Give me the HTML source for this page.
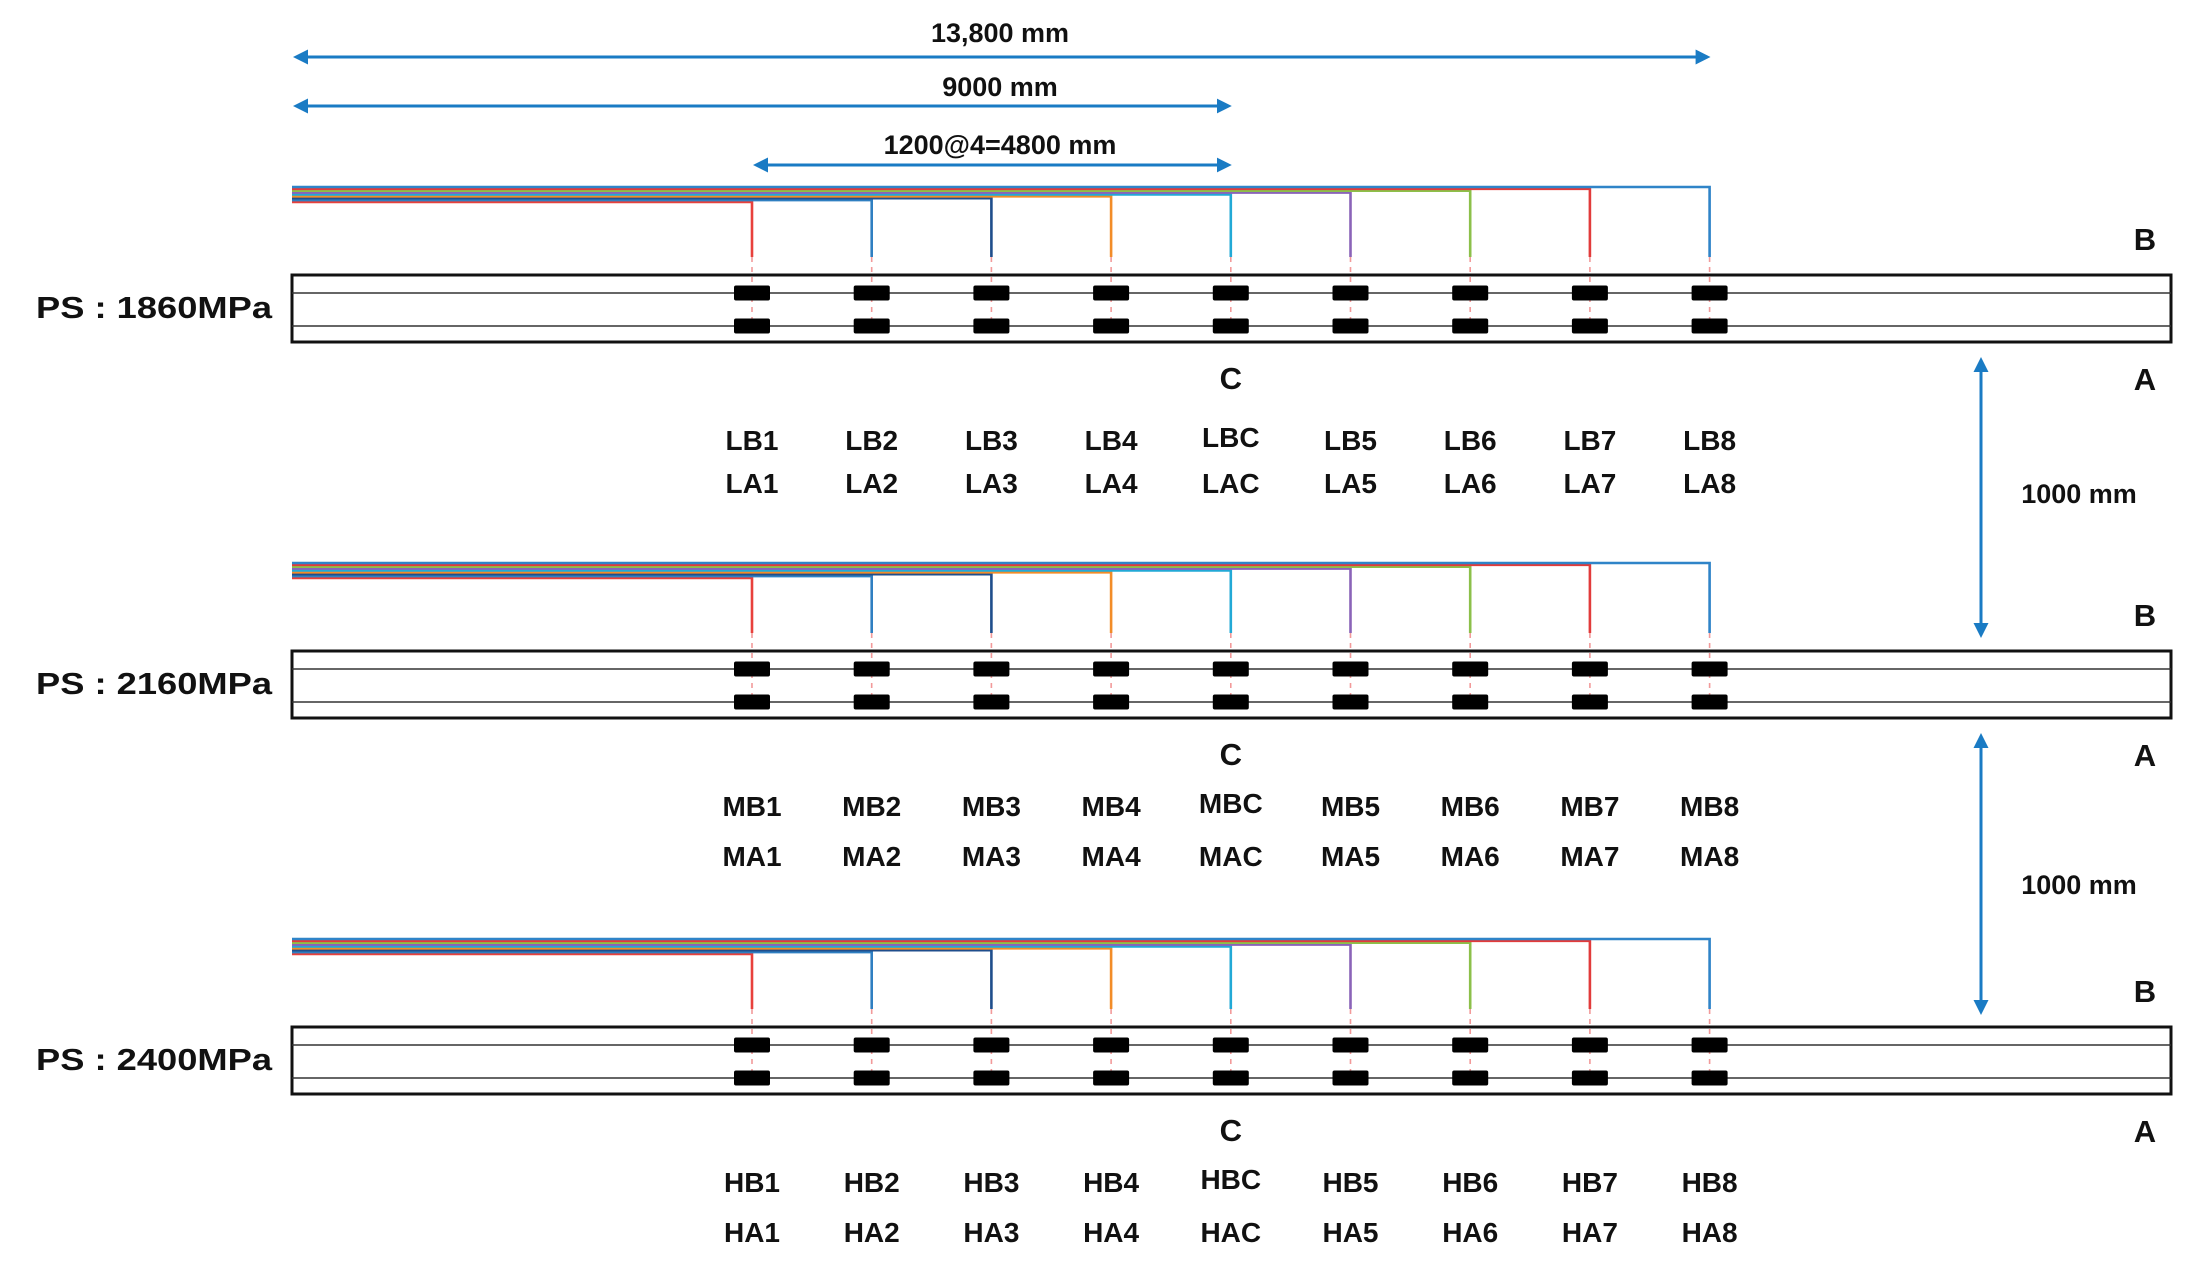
<!DOCTYPE html>
<html><head><meta charset="utf-8"><style>
html,body{margin:0;padding:0;background:#fff;}
svg{display:block;}
text{font-family:"Liberation Sans","Noto Sans CJK KR",sans-serif;font-weight:bold;fill:#111;}
</style></head><body>
<svg id="chart" width="2187" height="1266" viewBox="0 0 2187 1266" xmlns="http://www.w3.org/2000/svg">
<defs>
<marker id="ah" viewBox="0 0 10 10" refX="8" refY="5" markerWidth="5" markerHeight="5" orient="auto-start-reverse"><path d="M0,0 L10,5 L0,10 z" fill="#1a7bc4"/></marker>
</defs>
<g id="dims"></g>
<g id="rails"></g>
</svg>
<script>
const railLabels = ["PS : 1860MPa", "PS : 2160MPa", "PS : 2400MPa"];
const prefixes = ["L", "M", "H"];
const sensorIds = ["1","2","3","4","C","5","6","7","8"];
const wireColors = ["#e8413c","#2f7fc1","#1f4e8c","#f28c28","#22a9d6","#8a63b8","#8cc04a","#e23b3b","#2f84c8"];
const dimLabels = ["13,800 mm","9000 mm","1200@4=4800 mm"];
const dimFromIdx = [-1,-1,0];
const dimToIdx = [8,4,4];
const gapLabel = "1000 mm";

const NS="http://www.w3.org/2000/svg";
const svg=document.getElementById('chart');
const gd=document.getElementById('dims');
const gr=document.getElementById('rails');
function mk(tag,attrs,parent){const e=document.createElementNS(NS,tag);for(const k in attrs)e.setAttribute(k,attrs[k]);parent.appendChild(e);return e;}
const railLeft=292, railRight=2171;
const sx=i=>752+119.7*i;
const railTop=r=>275+376*r;

// dimension arrows
const dimY=[57,106,165], dimTY=[42,96,154];
dimLabels.forEach((lab,k)=>{
  const x1=dimFromIdx[k]<0?railLeft:sx(dimFromIdx[k]);
  const x2=sx(dimToIdx[k])+2;
  const l=mk('line',{x1:x1+4,y1:dimY[k],x2:x2-4,y2:dimY[k],stroke:'#1a7bc4','stroke-width':3,'marker-start':'url(#ah)','marker-end':'url(#ah)'},gd);
  
  
  const t=mk('text',{x:1000,y:dimTY[k],'text-anchor':'middle','font-size':27},gd);
  t.textContent=lab;
  
  
});
// vertical gap arrows
[[356,639,493],[732,1016,884]].forEach((g,k)=>{
  const l=mk('line',{x1:1981,y1:g[0]+4,x2:1981,y2:g[1]-4,stroke:'#1a7bc4','stroke-width':3,'marker-start':'url(#ah)','marker-end':'url(#ah)'},gd);
  
  
  const t=mk('text',{x:2079,y:g[2]+10,'text-anchor':'middle','font-size':27},gd);
  t.textContent=gapLabel;
  
  
});

railLabels.forEach((lab,r)=>{
  const top=railTop(r);
  const g=mk('g',{},gr);
  
  
  const bundleBottom=top-73, bundleTop=top-88;
  sensorIds.forEach((id,i)=>{
    const x=sx(i);
    const y=bundleBottom-i*(bundleBottom-bundleTop)/8;
    const p=mk('path',{d:`M${railLeft},${y} H${x} V${top-18}`,fill:'none',stroke:wireColors[i],'stroke-width':2.6},g);
    
    
    const d=mk('line',{x1:x,y1:top-18,x2:x,y2:top+52,stroke:'#f29a9a','stroke-width':1.6,'stroke-dasharray':'5,5'},g);
    
    
  });
  const box=mk('rect',{x:railLeft,y:top,width:railRight-railLeft,height:67,fill:'none',stroke:'#111','stroke-width':3},g);
  
  
  [18,51].forEach((o,j)=>{
    const ln=mk('line',{x1:railLeft,y1:top+o,x2:railRight,y2:top+o,stroke:'#333','stroke-width':1.6},g);
    
    
  });
  const bOff = r===0?175:165, aOff = r===0?218:215;
  sensorIds.forEach((id,i)=>{
    [18,51].forEach((o,j)=>{
      const s=mk('rect',{x:sx(i)-18,y:top+o-7.5,width:36,height:15,rx:2,fill:'#000'},g);
      
      
    });
    const tb=mk('text',{x:sx(i),y:top+bOff-(id==='C'?3:0),'text-anchor':'middle','font-size':28},g);
    tb.textContent=prefixes[r]+'B'+id;
    
    
    const ta=mk('text',{x:sx(i),y:top+aOff,'text-anchor':'middle','font-size':28},g);
    ta.textContent=prefixes[r]+'A'+id;
    
    
  });
  const pl=mk('text',{x:36,y:top+43,'font-size':31,textLength:236,lengthAdjust:'spacingAndGlyphs'},g);
  pl.textContent=lab;
  
  
  [['B',top-25],['A',top+115]].forEach(a=>{
    const t=mk('text',{x:2145,y:a[1],'text-anchor':'middle','font-size':31,'font-weight':'normal'},g);
    t.textContent=a[0];
    
    
  });
  const c=mk('text',{x:sx(4),y:top+114,'text-anchor':'middle','font-size':31,'font-weight':'normal'},g);
  c.textContent='C';
  
  
});
</script>
</body></html>
